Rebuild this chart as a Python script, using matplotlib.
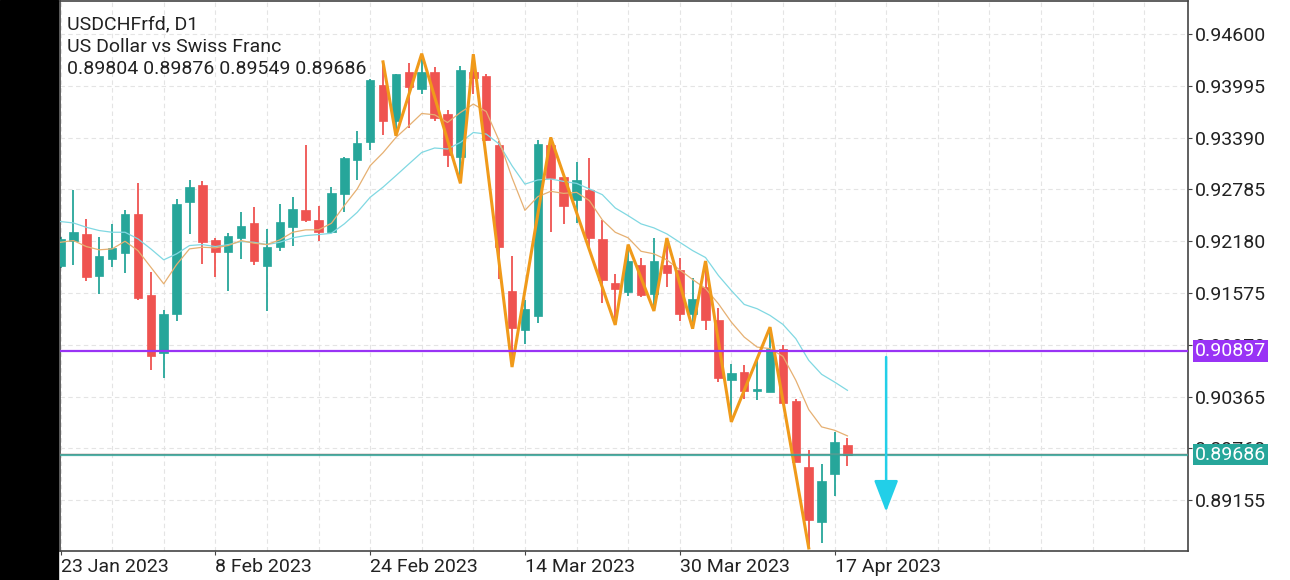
import numpy as np
import matplotlib.pyplot as plt
from matplotlib.patches import Rectangle
from matplotlib.ticker import MultipleLocator

plt.rcParams['font.family'] = ['Roboto', 'DejaVu Sans']

# --- chart data (daily USDCHF, 23 Jan 2023 .. 18 Apr 2023) ---
symbol = "USDCHFrfd, D1"
description = "US Dollar vs Swiss Franc"

opens = [0.91887, 0.92187, 0.92265, 0.91779, 0.91974, 0.92039, 0.92498, 0.91546, 0.90873, 0.91330,
         0.92633, 0.92840, 0.92195, 0.92051, 0.92219, 0.92389, 0.91887, 0.92117, 0.92350, 0.92545,
         0.92428, 0.92284, 0.92731, 0.93131, 0.93333, 0.94005, 0.93578, 0.94161, 0.93955, 0.94161,
         0.93664, 0.93158, 0.94157, 0.94110, 0.93306, 0.91596, 0.91138, 0.91301, 0.93306, 0.92925,
         0.92665, 0.92778, 0.92207, 0.91694, 0.91584, 0.91907, 0.91558, 0.91907, 0.91845, 0.91324,
         0.91643, 0.91254, 0.90563, 0.90652, 0.90430, 0.90423, 0.90916, 0.90314, 0.89537, 0.88903,
         0.89459, 0.89804]
highs = [0.92234, 0.92778, 0.92440, 0.92234, 0.92382, 0.92545, 0.92860, 0.91817, 0.91379, 0.92673,
         0.92895, 0.92881, 0.92219, 0.92272, 0.92517, 0.92583, 0.92323, 0.92615, 0.92700, 0.93306,
         0.92587, 0.92816, 0.93166, 0.93469, 0.94072, 0.94274, 0.94137, 0.94265, 0.94370, 0.94215,
         0.93711, 0.94227, 0.94363, 0.94137, 0.93353, 0.92012, 0.91488, 0.93361, 0.93391, 0.92945,
         0.93108, 0.93151, 0.92428, 0.91791, 0.92140, 0.91985, 0.92219, 0.92216, 0.91985, 0.91752,
         0.91948, 0.91403, 0.90750, 0.90730, 0.90788, 0.91176, 0.90963, 0.90342, 0.89739, 0.89576,
         0.89952, 0.89876]
lows = [0.91861, 0.91907, 0.91713, 0.91566, 0.91884, 0.91806, 0.91488, 0.90680, 0.90587, 0.91246,
        0.92265, 0.91913, 0.91767, 0.91596, 0.91974, 0.91896, 0.91363, 0.92062, 0.92129, 0.92400,
        0.92187, 0.92272, 0.92517, 0.92895, 0.93244, 0.93423, 0.93411, 0.93501, 0.93904, 0.93578,
        0.93041, 0.92855, 0.93897, 0.93353, 0.91741, 0.90710, 0.90975, 0.91219, 0.92284, 0.92382,
        0.92389, 0.92090, 0.91456, 0.91202, 0.91534, 0.91526, 0.91365, 0.91643, 0.91246, 0.91158,
        0.91144, 0.90535, 0.90069, 0.90342, 0.90330, 0.90421, 0.90287, 0.89599, 0.88597, 0.88658,
        0.89203, 0.89549]
closes = [0.92207, 0.92284, 0.91767, 0.92001, 0.92097, 0.92498, 0.91519, 0.90835, 0.91333, 0.92615,
          0.92808, 0.92167, 0.92051, 0.92242, 0.92362, 0.91954, 0.92109, 0.92400, 0.92557, 0.92428,
          0.92284, 0.92738, 0.93151, 0.93321, 0.94060, 0.93578, 0.94130, 0.93986, 0.94161, 0.93617,
          0.93189, 0.94177, 0.94091, 0.93361, 0.92109, 0.91169, 0.91391, 0.93310, 0.92918, 0.92595,
          0.92898, 0.92219, 0.91721, 0.91624, 0.91954, 0.91546, 0.91946, 0.91806, 0.91333, 0.91507,
          0.91254, 0.90587, 0.90645, 0.90430, 0.90458, 0.90925, 0.90290, 0.89603, 0.88923, 0.89381,
          0.89829, 0.89686]

# moving averages as shown on the chart
ma_fast = [0.92167, 0.92187, 0.92117, 0.92079, 0.92090, 0.92179, 0.92070, 0.91876, 0.91682, 0.91907,
           0.92090, 0.92109, 0.92102, 0.92129, 0.92187, 0.92156, 0.92140, 0.92195, 0.92284, 0.92312,
           0.92312, 0.92389, 0.92595, 0.92790, 0.93061, 0.93213, 0.93391, 0.93528, 0.93671, 0.93656,
           0.93566, 0.93683, 0.93781, 0.93694, 0.93353, 0.92921, 0.92540, 0.92700, 0.92762, 0.92738,
           0.92750, 0.92653, 0.92428, 0.92284, 0.92219, 0.92062, 0.92032, 0.91962, 0.91845, 0.91732,
           0.91627, 0.91449, 0.91235, 0.91060, 0.90943, 0.90925, 0.90835, 0.90555, 0.90213, 0.90011,
           0.89972, 0.89906]
ma_slow = [0.92409, 0.92393, 0.92342, 0.92304, 0.92284, 0.92284, 0.92207, 0.92090, 0.91962, 0.92032,
           0.92129, 0.92140, 0.92117, 0.92140, 0.92175, 0.92167, 0.92140, 0.92167, 0.92219, 0.92245,
           0.92257, 0.92272, 0.92382, 0.92517, 0.92692, 0.92811, 0.92945, 0.93081, 0.93216, 0.93268,
           0.93256, 0.93333, 0.93449, 0.93431, 0.93314, 0.93061, 0.92846, 0.92895, 0.92906, 0.92878,
           0.92855, 0.92790, 0.92723, 0.92568, 0.92478, 0.92382, 0.92335, 0.92265, 0.92167, 0.92070,
           0.91989, 0.91779, 0.91604, 0.91441, 0.91391, 0.91313, 0.91208, 0.91041, 0.90788, 0.90625,
           0.90535, 0.90438]

# zigzag swing points (bar index, H = high / L = low)
zz_idx = [25, 26, 28, 31, 32, 35, 38, 43, 44, 46, 47, 49, 50, 52, 55, 58]
zz_kind = "HLHLHLHLHLHLHLHL"

date_ticks = [0, 12, 24, 36, 48, 60]
date_labels = ["23 Jan 2023", "8 Feb 2023", "24 Feb 2023", "14 Mar 2023", "30 Mar 2023", "17 Apr 2023"]
price_ticks = [0.94600, 0.93995, 0.93390, 0.92785, 0.92180, 0.91575, 0.90970, 0.90365, 0.89760, 0.89155]

level = 0.90897
bid = 0.89686
ask = 0.89700
arrow_x = 64
arrow_from = 0.90827
arrow_to = 0.89020

UP = '#26a69a'
DOWN = '#ef5350'
PURPLE = '#9933f5'

W, H = 1290, 580
fig = plt.figure(figsize=(W / 100, H / 100), dpi=100)
fig.patches.append(Rectangle((0, 0), 58 / W, 1, transform=fig.transFigure, color='black', zorder=-1))
ax = fig.add_axes([60 / W, 29 / H, 1128 / W, 550 / H])

o = np.array(opens); h = np.array(highs); l = np.array(lows); c = np.array(closes)
x = np.arange(len(o))
col = np.where(c >= o, UP, DOWN)

ax.vlines(x, l, h, colors=col, lw=1.3, zorder=2)
ax.bar(x, np.maximum(np.abs(c - o), 0.00015), bottom=np.minimum(o, c), width=0.66,
       color=col, edgecolor=col, lw=0.5, zorder=3)

ax.plot(x, ma_slow, color='#80d8e2', lw=0.9, zorder=4)
ax.plot(x, ma_fast, color='#e6b072', lw=0.9, zorder=4)

zz_y = [h[i] if k == 'H' else l[i] for i, k in zip(zz_idx, zz_kind)]
ax.plot(zz_idx, zz_y, color='#f09a1a', lw=2.2, zorder=5, solid_joinstyle='miter')

ax.axhline(level, color=PURPLE, lw=1.6, zorder=6)
ax.axhline(ask, color='#e88080', lw=1.0, zorder=6)
ax.axhline(bid, color=UP, lw=1.6, alpha=0.8, zorder=6)

ax.annotate('', xy=(arrow_x, arrow_to), xytext=(arrow_x, arrow_from),
            arrowprops=dict(arrowstyle='-|>,head_length=1.3,head_width=0.5', color='#22cfe8',
                            lw=1.8, mutation_scale=15, shrinkA=0, shrinkB=0), zorder=7)

ax.set_xlim(-0.04, 87.4)
ax.set_ylim(0.885617, 0.949847)

ax.yaxis.tick_right()
ax.set_yticks(price_ticks, [f"{p:.5f}" for p in price_ticks])
ax.set_xticks(date_ticks, date_labels)
for lab in ax.get_xticklabels():
    lab.set_ha('left')
ax.xaxis.set_minor_locator(MultipleLocator(4))
ax.tick_params(axis='both', which='major', direction='out', length=3, color='#444444',
               labelsize=14, labelcolor='#222222', pad=2)
ax.tick_params(axis='x', which='minor', length=0)
ax.grid(True, axis='x', which='both', color='#e4e4e4', ls=(0, (4, 3)), lw=0.8)
ax.grid(True, axis='y', which='major', color='#e4e4e4', ls=(0, (4, 3)), lw=0.8)
ax.set_axisbelow(True)
for s in ax.spines.values():
    s.set_color('#444444')
    s.set_linewidth(1.2)

# price labels on the scale
for price, fc in [(level, PURPLE), (bid, UP)]:
    ax.annotate(f"{price:.5f}", xy=(1, price), xycoords=('axes fraction', 'data'),
                xytext=(5, 0), textcoords='offset points', ha='left', va='center',
                fontsize=14, color='white', annotation_clip=False, zorder=10,
                bbox=dict(boxstyle='square,pad=0.08', fc=fc, ec='none'))

# header text
fig.text(67 / W, 1 - 29 / H, symbol, fontsize=14, color='#222222', va='baseline')
fig.text(67 / W, 1 - 52 / H, description, fontsize=14, color='#222222', va='baseline')
fig.text(67 / W, 1 - 74 / H, f"{opens[-1]:.5f} {highs[-1]:.5f} {lows[-1]:.5f} {closes[-1]:.5f}",
         fontsize=14, color='#222222', va='baseline')

fig.savefig('out.png', dpi=100)
